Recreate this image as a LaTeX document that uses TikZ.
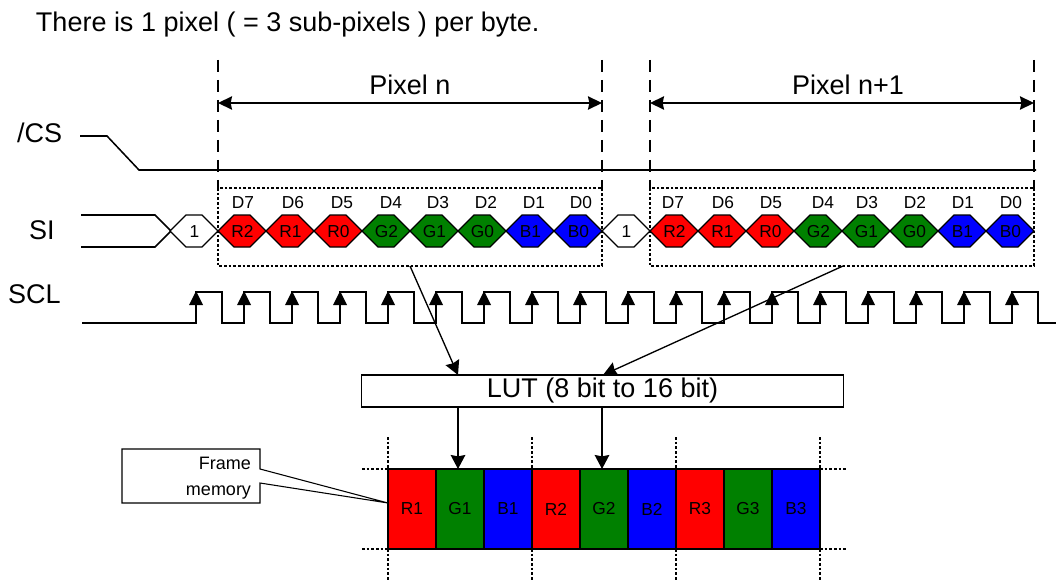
\documentclass[tikz,border=0pt]{standalone}
\usepackage{fontspec}
\setmainfont{Liberation Sans}
\usetikzlibrary{arrows.meta}
\definecolor{cred}{HTML}{FF0000}
\definecolor{cgreen}{HTML}{008000}
\definecolor{cblue}{HTML}{0000FF}
\tikzset{
  every node/.style={inner sep=0pt,outer sep=0pt},
  base line/.style={line width=1.15pt,line join=miter},
  thin line/.style={line width=0.8pt},
  hexcell/.style={line width=0.95pt,draw=black,line join=miter},
  guide/.style={line width=0.95pt,dash pattern=on 9pt off 6pt},
  dotbox/.style={line width=0.85pt,dash pattern=on 1.9pt off 1.6pt},
  bigtext/.style={anchor=base,font=\fontsize{20.25pt}{24pt}\selectfont},
  smalltext/.style={anchor=base,font=\fontsize{13pt}{15pt}\selectfont},
  cell/.style={draw=black,line width=0.95pt,minimum width=36pt,minimum height=60pt,font=\fontsize{13pt}{15pt}\selectfont},
  bus/.style={line width=1pt,-{Stealth[length=10.5pt,width=11pt,inset=1pt]}},
  span/.style={line width=1.1pt,{Stealth[length=10.5pt,width=10pt,inset=1pt]}-{Stealth[length=10.5pt,width=10pt,inset=1pt]}}
}
\begin{document}
\begin{tikzpicture}[x=0.75pt,y=-0.75pt]
\useasboundingbox (0,0) rectangle (1056,581);
% title
\node[bigtext,anchor=base west] (title) at (36,32) {There is 1 pixel ( = 3 sub-pixels ) per byte.};
% left labels
\node[bigtext,anchor=base west] (cslabel) at (17,143) {/CS};
\node[bigtext,anchor=base west] (silabel) at (29,239) {SI};
\node[bigtext,anchor=base west] (scllabel) at (8,303) {SCL};
% pixel spans
\foreach \x in {218,602,650,1034} {
  \draw[guide] (\x,60) -- (\x,190);
}
\coordinate (na) at (218,103); \coordinate (nb) at (602,103);
\coordinate (ma) at (650,103); \coordinate (mb) at (1034,103);
\draw[span] (na) -- (nb);
\draw[span] (ma) -- (mb);
\node[bigtext] (pixn) at (410,95) {Pixel n};
\node[bigtext] (pixm) at (848,95) {Pixel n+1};
% /CS
\draw[base line] (80,136) -- (107,136) -- (139,170) -- (1036,170);
% dotted boxes
\draw[dotbox] (218,188) rectangle (602,266);
\draw[dotbox] (650,188) rectangle (1034,266);
% SI lines
\draw[base line] (81,215) -- (155,215) -- (171,231);
\draw[base line] (81,247) -- (155,247) -- (171,231);
% hexagons
\foreach \x/\c/\t/\nm in {
  218/cred/R2/a0,266/cred/R1/a1,314/cred/R0/a2,362/cgreen/G2/a3,
  410/cgreen/G1/a4,458/cgreen/G0/a5,506/cblue/B1/a6,554/cblue/B0/a7,
  650/cred/R2/b0,698/cred/R1/b1,746/cred/R0/b2,794/cgreen/G2/b3,
  842/cgreen/G1/b4,890/cgreen/G0/b5,938/cblue/B1/b6,986/cblue/B0/b7,
  170/white/1/s0,602/white/1/s1} {
  \draw[hexcell,fill=\c] (\x,231) -- ({\x+16},215) -- ({\x+32},215) -- ({\x+48},231) -- ({\x+32},247) -- ({\x+16},247) -- cycle;
  \node[smalltext] (\nm) at ({\x+24.5},237) {\t};
}
% bit labels
\foreach \x/\t/\nm in {243/D7/da0,293/D6/da1,342/D5/da2,391/D4/da3,438/D3/da4,486/D2/da5,534/D1/da6,581/D0/da7,
  673/D7/db0,723/D6/db1,771/D5/db2,823/D4/db3,867/D3/db4,915/D2/db5,963/D1/db6,1011/D0/db7} {
  \node[smalltext] (\nm) at (\x,208) {\t};
}
% SCL
\draw[base line] (82,323) foreach \x in {196,244,...,1012} { -- (\x,323) -- (\x,292) -- ({\x+26},292) -- ({\x+26},323) } -- (1056,323);
\foreach \x in {196,244,...,1012} {
  \fill (\x,291) -- ({\x+7},305) -- ({\x-7},305) -- cycle;
}
% LUT
\node[draw=black,fill=white,line width=0.95pt,minimum width=361pt,minimum height=24pt,font=\fontsize{20.25pt}{24pt}\selectfont] (lut) at (602.5,391) {\raisebox{-0.75pt}{LUT (8 bit to 16 bit)}};
\coordinate (srcA) at (410,266); \coordinate (dstA) at (458,375);
\coordinate (srcB) at (843,266); \coordinate (dstB) at (603,375);
\draw[bus] (srcA) -- (dstA);
\draw[bus] (srcB) -- (dstB);
% frame dotted
\foreach \x in {388,532,676,820} {
  \draw[dotbox] (\x,437) -- (\x,469);
  \draw[dotbox] (\x,549) -- (\x,581);
}
\foreach \y in {469,549} {
  \draw[dotbox] (362,\y) -- (388,\y);
  \draw[dotbox] (820,\y) -- (846,\y);
}
% frame cells
\foreach \i/\c/\t in {0/cred/R1,1/cgreen/G1,2/cblue/B1,3/cred/R2,4/cgreen/G2,5/cblue/B2,6/cred/R3,7/cgreen/G3,8/cblue/B3} {
  \node[cell,fill=\c] (f\i) at ({412+48*\i},509) {\t};
}
\coordinate (outA) at (458,407); \coordinate (inA) at (458,469);
\coordinate (outB) at (602,407); \coordinate (inB) at (602,469);
\draw[bus] (outA) -- (inA);
\draw[bus] (outB) -- (inB);
% callout
\draw[thin line,fill=white] (122,449) -- (260,449) -- (260,469) -- (388,503) -- (260,483) -- (260,503) -- (122,503) -- cycle;
\node[anchor=base east,font=\fontsize{13.5pt}{16pt}\selectfont] (fr1) at (251,469) {Frame};
\node[anchor=base east,font=\fontsize{13.5pt}{16pt}\selectfont] (fr2) at (251,495) {memory};
\end{tikzpicture}
\end{document}
